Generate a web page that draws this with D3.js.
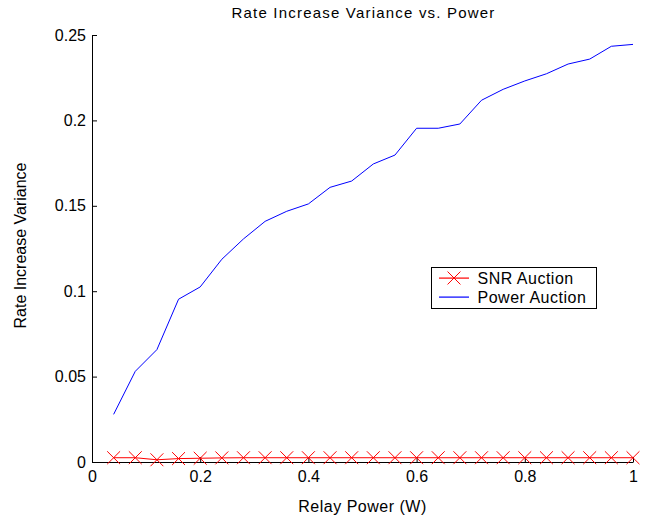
<!DOCTYPE html>
<html>
<head>
<meta charset="utf-8">
<script src="https://cdn.jsdelivr.net/npm/d3@7"></script>
<style>
  body { margin: 0; background: #fff; }
  svg text { font-family: "Liberation Sans", Arial, Helvetica, sans-serif; fill: #000; }
</style>
</head>
<body>
<div id="chart"></div>
<script>
// data
const relayPower = [0.04, 0.08, 0.12, 0.16, 0.20, 0.24, 0.28, 0.32, 0.36, 0.40,
                    0.44, 0.48, 0.52, 0.56, 0.60, 0.64, 0.68, 0.72, 0.76, 0.80,
                    0.84, 0.88, 0.92, 0.96, 1.00];
const powerAuction = [0.0279, 0.0531, 0.0658, 0.0953, 0.1025, 0.1187, 0.1306, 0.1409, 0.1468, 0.1511,
                      0.1608, 0.1645, 0.1745, 0.1797, 0.1954, 0.1954, 0.1979, 0.2118, 0.2182, 0.2231,
                      0.2273, 0.2330, 0.2359, 0.2434, 0.2445];
const snrAuction = [0.0025, 0.0025, 0.0013, 0.0020, 0.0022, 0.0024, 0.0025, 0.0025, 0.0025, 0.0025,
                    0.0025, 0.0025, 0.0025, 0.0025, 0.0025, 0.0025, 0.0025, 0.0025, 0.0025, 0.0025,
                    0.0025, 0.0025, 0.0025, 0.0025, 0.0025];
const xTicks = [0, 0.2, 0.4, 0.6, 0.8, 1];
const yTicks = [0, 0.05, 0.1, 0.15, 0.2, 0.25];
const legendLabels = ["SNR Auction", "Power Auction"];

const width = 651, height = 517;
const margin = {top: 35, left: 92, right: 18, bottom: 55};

const svg = d3.select("#chart").append("svg")
    .attr("width", width)
    .attr("height", height);

const x = d3.scaleLinear().domain([0, 1]).range([margin.left, width - margin.right]);
const y = d3.scaleLinear().domain([0, 0.25]).range([height - margin.bottom, margin.top]);

// axes, ticks pointing inward like matlab
const xAxis = svg.append("g")
    .attr("transform", `translate(0,${y(0)})`)
    .call(d3.axisBottom(x).tickValues(xTicks).tickFormat(d3.format("~g"))
        .tickSizeInner(-5).tickSizeOuter(0).tickPadding(9));
const yAxis = svg.append("g")
    .attr("transform", `translate(${x(0)},0)`)
    .call(d3.axisLeft(y).tickValues(yTicks).tickFormat(d3.format("~g"))
        .tickSizeInner(-5).tickSizeOuter(0).tickPadding(6));

[xAxis, yAxis].forEach(a => {
    a.select(".domain").attr("stroke", "#000").attr("stroke-width", 1);
    a.selectAll(".tick line").attr("stroke", "#000");
    a.selectAll(".tick text").style("font-size", "16px");
});
xAxis.selectAll(".tick text").attr("dy", "0.71em");

// power auction line
const line = d3.line().x(d => x(d[0])).y(d => y(d[1]));
svg.append("path")
    .datum(relayPower.map((p, i) => [p, powerAuction[i]]))
    .attr("fill", "none")
    .attr("stroke", "#0000ff")
    .attr("stroke-width", 1)
    .attr("d", line);

// snr auction line + x markers
const snrData = relayPower.map((p, i) => [p, snrAuction[i]]);
svg.append("path")
    .datum(snrData)
    .attr("fill", "none")
    .attr("stroke", "#ff0000")
    .attr("stroke-width", 1)
    .attr("d", line);

const cross = d3.symbol().type(d3.symbolX).size(110);
svg.selectAll(".snrMark")
    .data(snrData)
    .enter()
    .append("path")
    .attr("class", "snrMark")
    .attr("d", cross)
    .attr("transform", d => `translate(${x(d[0])},${y(d[1])})`)
    .attr("fill", "none")
    .attr("stroke", "#ff0000")
    .attr("stroke-width", 1);

// title and labels
svg.append("text")
    .attr("x", (x(0) + x(1)) / 2 + 1)
    .attr("y", 18)
    .attr("text-anchor", "middle")
    .style("font-size", "15px")
    .style("letter-spacing", "1.2px")
    .text("Rate Increase Variance vs. Power");

svg.append("text")
    .attr("x", (x(0) + x(1)) / 2)
    .attr("y", 512)
    .attr("text-anchor", "middle")
    .style("font-size", "16px")
    .style("letter-spacing", "0.5px")
    .text("Relay Power (W)");

svg.append("text")
    .attr("transform", `translate(26,${(y(0) + y(0.25)) / 2 - 3}) rotate(-90)`)
    .attr("text-anchor", "middle")
    .style("font-size", "16px")
    .text("Rate Increase Variance");

// legend
const legend = svg.append("g").attr("transform", "translate(431.5,267.5)");
legend.append("rect")
    .attr("width", 165)
    .attr("height", 41)
    .attr("fill", "#fff")
    .attr("stroke", "#000")
    .attr("stroke-width", 1);

const legendColors = ["#ff0000", "#0000ff"];
legendLabels.forEach((lab, i) => {
    const ly = 11 + i * 19;
    legend.append("rect")
        .attr("x", 7.5).attr("y", ly - 1)
        .attr("width", 30).attr("height", 1.2)
        .style("fill", legendColors[i])
        .style("stroke", "none");
    if (i === 0) {
        legend.append("path")
            .attr("d", cross)
            .attr("transform", `translate(22.5,${ly - 0.5})`)
            .attr("fill", "none")
            .attr("stroke", "#ff0000");
    }
    legend.append("text")
        .attr("x", 46)
        .attr("y", ly)
        .attr("dy", "0.35em")
        .style("font-size", "16px")
        .style("letter-spacing", "0.5px")
        .text(lab);
});
</script>
</body>
</html>
